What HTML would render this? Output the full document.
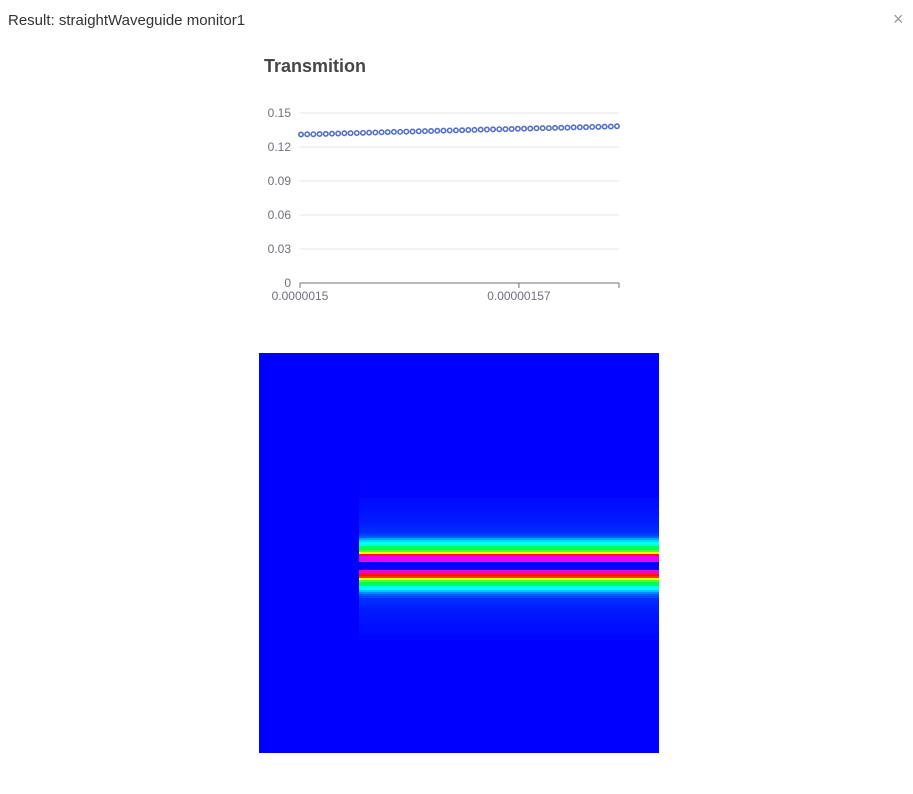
<!DOCTYPE html>
<html><head><meta charset="utf-8"><style>
body{margin:0;width:913px;height:794px;background:#fff;font-family:"Liberation Sans",sans-serif;position:relative;overflow:hidden}
#hdr{position:absolute;left:8px;top:12px;font-size:15px;color:#333}
#close{position:absolute;left:893px;top:9px;font-size:18px;color:#999}
svg{position:absolute;left:0;top:0}
</style></head><body>
<div id="hdr">Result: straightWaveguide monitor1</div>
<div id="close">×</div>
<svg id="s" width="913" height="794">
<text x="264" y="72" font-size="18" font-weight="bold" fill="#464646">Transmition</text>
</svg>
<script>
const yTicks=[0,0.03,0.06,0.09,0.12,0.15];
const xLabels=["0.0000015","0.00000157"];
const xLabelIdx=[0,35];
const transmission=[0.1310,0.1312,0.1313,0.1315,0.1316,0.1318,0.1319,0.1321,0.1322,0.1324,0.1325,0.1327,0.1328,0.1330,0.1331,0.1333,0.1334,0.1336,0.1337,0.1339,0.1340,0.1341,0.1343,0.1344,0.1346,0.1347,0.1348,0.1350,0.1351,0.1353,0.1354,0.1355,0.1357,0.1358,0.1359,0.1361,0.1362,0.1363,0.1365,0.1366,0.1367,0.1369,0.1370,0.1371,0.1373,0.1374,0.1375,0.1377,0.1378,0.1380,0.1381,0.1383];
const fieldProfile=[0.01,0.01,0.01,0.01,0.01,0.01,0.01,0.01,0.01,0.03,0.03,0.04,0.04,0.04,0.05,0.05,0.05,0.06,0.06,0.07,0.07,0.08,0.09,0.1,0.11,0.12,0.13,0.2,0.25,0.33,0.38,0.42,0.44,0.55,0.56,0.6,0.7,0.85,1,1,0.98,0,0,0,0,0.97,0.97,0.85,0.83,0.7,0.6,0.56,0.55,0.44,0.42,0.36,0.3,0.24,0.2,0.13,0.12,0.11,0.1,0.09,0.08,0.07,0.07,0.06,0.06,0.05,0.05,0.05,0.04,0.04,0.04,0.03,0.03,0.02,0.02,0.02];
const NS="http://www.w3.org/2000/svg",s=document.getElementById('s');
function mk(t,a){const e=document.createElementNS(NS,t);for(const k in a)e.setAttribute(k,a[k]);s.appendChild(e);return e;}
const X0=300,X1=619,Y0=283,Y1=113;
const yS=v=>Y0-(v-0)/(0.15)*(Y0-Y1);
const xS=i=>X0+1+i*(X1-X0-3)/(transmission.length-1);
yTicks.forEach(t=>{
 if(t>0){const l=mk('line',{x1:X0,x2:X1,y1:yS(t),y2:yS(t),stroke:'#e6e6e6'});
 
 }
 const tx=mk('text',{x:291,y:yS(t)+4,'font-size':12,fill:'#6e7079','text-anchor':'end'});tx.textContent=t;
 
 
});
const ax=mk('line',{x1:X0,x2:X1,y1:Y0,y2:Y0,stroke:'#6e7079'});


[0,xLabelIdx[1],transmission.length-1].forEach(i=>{const t=mk('line',{x1:X0+i*(X1-X0)/(transmission.length-1),x2:X0+i*(X1-X0)/(transmission.length-1),y1:Y0,y2:Y0+5,stroke:'#6e7079'});
 
 });
xLabels.forEach((lb,j)=>{const t=mk('text',{x:X0+xLabelIdx[j]*(X1-X0)/(transmission.length-1),y:Y0+17,'font-size':12,fill:'#6e7079','text-anchor':'middle'});t.textContent=lb;
 
 });
transmission.forEach((v,i)=>{const c=mk('circle',{cx:xS(i),cy:yS(v),r:2.2,fill:'#fff',stroke:'#5470c6','stroke-width':1.6});
 
 });
const HX=259,HY=353,HW=400,HH=400,SPLIT=359,PY=480,RH=2;
const bg=mk('rect',{x:HX,y:HY,width:HW,height:HH,fill:'#0000ff'});


function cmap(v){const st=[[0,[0,0,255]],[0.25,[0,90,255]],[0.42,[0,255,255]],[0.56,[0,255,80]],[0.7,[255,255,0]],[0.85,[255,20,0]],[1,[230,0,255]]];
 for(let i=1;i<st.length;i++)if(v<=st[i][0]){const a=st[i-1],b=st[i],f=(v-a[0])/(b[0]-a[0]);return 'rgb('+a[1].map((c,k)=>Math.round(c+(b[1][k]-c)*f)).join(',')+')';}
 return 'rgb(230,0,255)';}
fieldProfile.forEach((v,i)=>{const r=mk('rect',{x:SPLIT,y:PY+i*RH,width:HX+HW-SPLIT,height:RH+0.3,fill:cmap(v)});
 
 });
</script>
</body></html>
